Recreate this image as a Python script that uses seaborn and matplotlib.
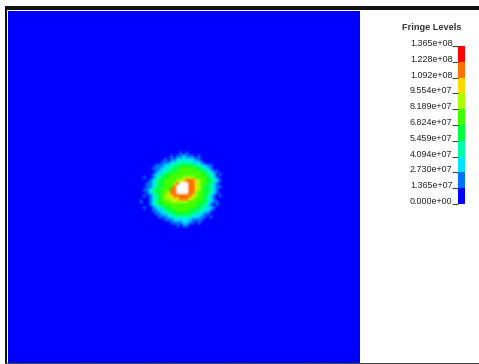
import numpy as np
import matplotlib
matplotlib.use('Agg')
import matplotlib.pyplot as plt
from matplotlib.colors import ListedColormap
from matplotlib.patches import Rectangle
from matplotlib.transforms import ScaledTranslation
import seaborn as sns

# fringe colours, low to high, last one is the white hot spot
fringe_colors = ['#0000ff', '#0070ff', '#00e0ff', '#00ffaa', '#00ff40',
                 '#40ff00', '#a8ff00', '#ffd800', '#ff7000', '#ff0000', '#ffffff']
bar_colors = ['#0000ff', '#0070ff', '#00e5ff', '#00ffaa', '#00ff40',
              '#40ff00', '#a8ff00', '#ffd800', '#ff7000', '#ff0000']
level_labels = ['1.365e+08', '1.228e+08', '1.092e+08', '9.554e+07', '8.189e+07', '6.824e+07',
                '5.459e+07', '4.094e+07', '2.730e+07', '1.365e+07', '0.000e+00']

# fringe level per cell around the blob, W = above top level
blob_rows = [
    '000000000000000000000000000',
    '000000000000010100000000000',
    '000000000010112111010000000',
    '000000001011222222110000000',
    '000000011122333332221000000',
    '000001112233344444332211000',
    '000011122334455555443221000',
    '000001223344555555554432110',
    '000012234455555555555433201',
    '010012344555556666555543210',
    '000123445555667888765544321',
    '001123445556' + '8WWW88765543210',
    '00112344555' + '8WWWW88765443211',
    '011234455588' + 'WWWW88765443210',
    '001234455688' + 'WWWW88655443210',
    '010123456678' + '888887655432101',
    '000123456667' + '788876555432100',
    '100123455566' + '666655554432110',
    '000123445555' + '555555544321010',
    '010012234455' + '555555443322100',
    '000011223444' + '555544433221000',
    '000001122334' + '444443322110000',
    '000000111223' + '333332221101000',
    '000000001112' + '222221111000000',
    '000000000011' + '112211010000000',
    '000000000000' + '101100000000000',
    '000000000000000000000000000',
]
n_cells = 117
blob_col, blob_row = 44, 46

W, H = 479, 364
plt.rcParams['font.family'] = ['Liberation Sans', 'DejaVu Sans']
fig = plt.figure(figsize=(W / 100, H / 100), dpi=100)


def px_axes(x0, y0, x1, y1):
    return fig.add_axes([x0 / W, 1 - y1 / H, (x1 - x0) / W, (y1 - y0) / H])


# main plot, gouraud so the fringes blend like the original
field = np.zeros((n_cells, n_cells))
blob = np.array([[10 if c == 'W' else int(c) for c in r] for r in blob_rows])
field[blob_row:blob_row + blob.shape[0], blob_col:blob_col + blob.shape[1]] = blob
ax = px_axes(7.5, 11, 360, 362.5)
sns.heatmap(field, ax=ax, cmap=ListedColormap(fringe_colors), vmin=0, vmax=11,
            cbar=False, xticklabels=False, yticklabels=False, shading='gouraud')
ax.set_xlim(0, n_cells - 1)
ax.set_ylim(n_cells - 1, 0)

# colour bar
bar = px_axes(458, 46, 465, 204)
levels = np.arange(len(bar_colors))[::-1].reshape(-1, 1)
sns.heatmap(levels, ax=bar, cmap=ListedColormap(bar_colors), cbar=False, xticklabels=False)
bar.set_yticks(np.arange(len(level_labels)))
bar.set_yticklabels(level_labels, rotation=0, fontsize=6.4, color='#222222')
bar.tick_params(axis='y', left=True, length=4, width=0.8, color='#444444', pad=0)
shift = ScaledTranslation(0, 2.5 / 100, fig.dpi_scale_trans)
for lab in bar.get_yticklabels():
    lab.set_transform(lab.get_transform() + shift)
fig.text(432 / W, 1 - 27.5 / H, 'Fringe Levels', ha='center', va='center',
         fontsize=6.6, fontweight='bold', color='#333333')

# window frame
frame = [(4.5, 6, 2.8, 358, '#111111'), (4.5, 6, 474.5, 3.6, '#111111'), (4.5, 362.5, 474.5, 1.5, '#444444')]
for x, y, w, h, col in frame:
    fig.patches.append(Rectangle((x / W, 1 - (y + h) / H), w / W, h / H, transform=fig.transFigure,
                                 facecolor=col, edgecolor='none'))

fig.savefig('out.png', dpi=100)
